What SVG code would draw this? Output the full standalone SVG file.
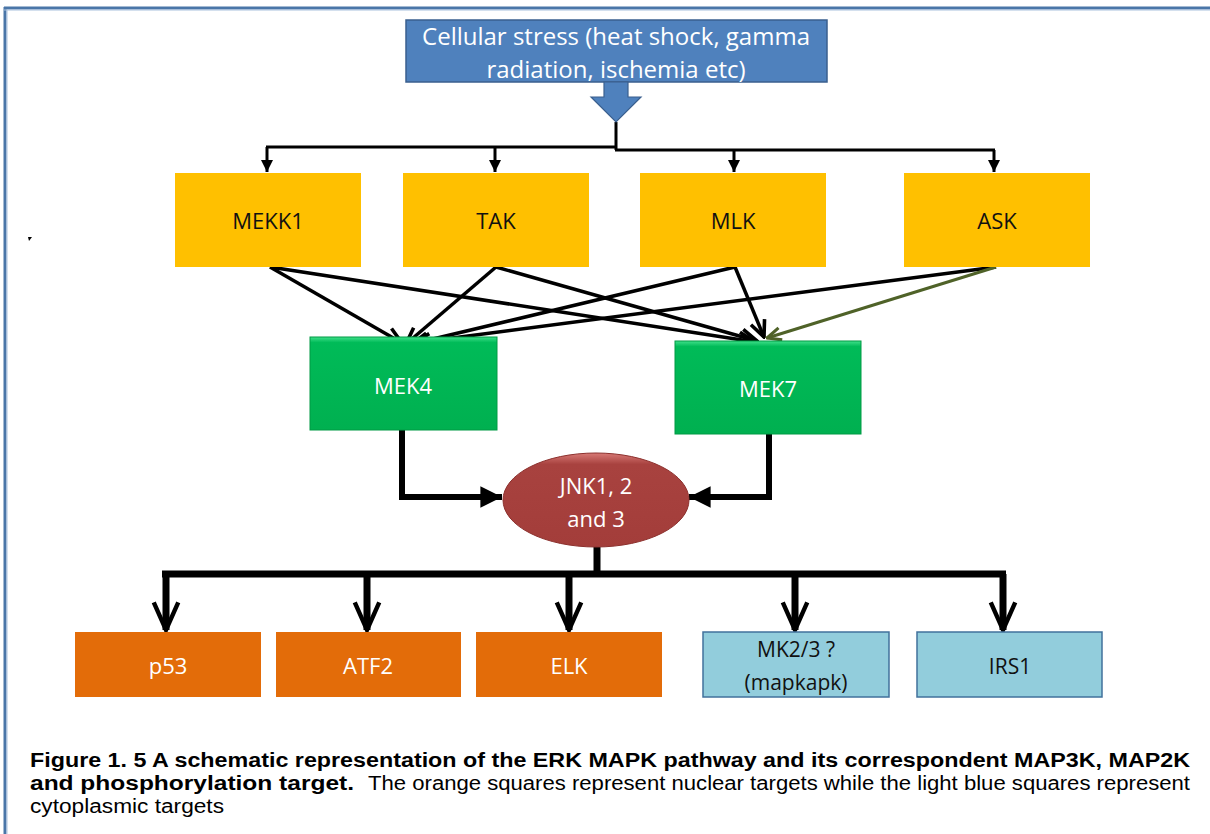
<svg xmlns="http://www.w3.org/2000/svg" width="1210" height="834" viewBox="0 0 1210 834">
  <defs>
    <style>
      .lbl { font-family: "Open Sans", "Liberation Sans", sans-serif; text-anchor: middle; }
      .w { fill: #ffffff; }
      .k { fill: #111111; }
      .cap { font-family: "Liberation Sans", Arial, sans-serif; font-size: 20px; fill: #000; }
      .wire { fill: none; stroke: #000; stroke-width: 3; }
      .diag { fill: none; stroke: #000; stroke-width: 3.5; }
      .thick { fill: none; stroke: #000; stroke-width: 6; }
      .fat { fill: none; stroke: #000; stroke-width: 7; }
    </style>
    <linearGradient id="gGreen" x1="0" y1="0" x2="0" y2="1">
      <stop offset="0" stop-color="#3fe08a"/>
      <stop offset="0.06" stop-color="#00bb58"/>
      <stop offset="1" stop-color="#00b050"/>
    </linearGradient>
    <linearGradient id="gRed" x1="0" y1="0" x2="0" y2="1">
      <stop offset="0" stop-color="#d87a76"/>
      <stop offset="0.12" stop-color="#a8423f"/>
      <stop offset="1" stop-color="#a33d3a"/>
    </linearGradient>
    <marker id="mSmall" viewBox="0 0 10 10" refX="10" refY="5" markerWidth="4" markerHeight="5" orient="auto" markerUnits="strokeWidth">
      <path d="M0,0 L10,5 L0,10 Z" fill="#000"/>
    </marker>
    <marker id="mOpen" viewBox="0 0 12 12" refX="11" refY="6" markerWidth="5.6" markerHeight="5.6" orient="auto" markerUnits="strokeWidth">
      <path d="M1,1.5 L11,6 L1,10.5" fill="none" stroke="#000" stroke-width="2.2"/>
    </marker>
    <marker id="mOpenG" viewBox="0 0 12 12" refX="11" refY="6" markerWidth="5.6" markerHeight="5.6" orient="auto" markerUnits="strokeWidth">
      <path d="M1,1.5 L11,6 L1,10.5" fill="none" stroke="#4f6228" stroke-width="2.2"/>
    </marker>
    <marker id="mFill" viewBox="0 0 10 10" refX="10" refY="5" markerWidth="3.6" markerHeight="3.6" orient="auto" markerUnits="strokeWidth">
      <path d="M0,0 L10,5 L0,10 Z" fill="#000"/>
    </marker>
    <marker id="mV" viewBox="0 0 12 12" refX="10.5" refY="6" markerWidth="5" markerHeight="5" orient="auto" markerUnits="strokeWidth">
      <path d="M1,1.8 L10.5,6 L1,10.2" fill="none" stroke="#000" stroke-width="1.5"/>
    </marker>
  </defs>

  <rect width="1210" height="834" fill="#ffffff"/>

  <!-- page frame -->
  <g id="frame">
    <line x1="4" y1="8" x2="1210" y2="8" stroke="#4a76a8" stroke-width="3"/>
    <line x1="5" y1="7" x2="5" y2="834" stroke="#4a76a8" stroke-width="3"/>
    <line x1="4" y1="10" x2="1210" y2="10" stroke="#a9c1de" stroke-width="1"/>
    <line x1="7" y1="10" x2="7" y2="834" stroke="#a9c1de" stroke-width="1"/>
    <path d="M28,237 L32,237 L29,241 Z" fill="#000"/>
  </g>

  <!-- connectors -->
  <g id="connectors">
    <!-- stress fan-out -->
    <line x1="616" y1="122" x2="616" y2="150" class="wire"/>
    <line x1="266" y1="147" x2="617" y2="147" class="wire"/>
    <line x1="615" y1="150" x2="995" y2="150" class="wire"/>
    <line x1="267" y1="147" x2="267" y2="172" class="wire" marker-end="url(#mSmall)"/>
    <line x1="495" y1="147" x2="495" y2="172" class="wire" marker-end="url(#mSmall)"/>
    <line x1="734" y1="150" x2="734" y2="172" class="wire" marker-end="url(#mSmall)"/>
    <line x1="994" y1="150" x2="994" y2="172" class="wire" marker-end="url(#mSmall)"/>

    <!-- MAP3K to MAP2K -->
    <line x1="270" y1="267" x2="402" y2="343" class="diag" marker-end="url(#mOpen)"/>
    <line x1="270" y1="267" x2="755" y2="342" class="diag" marker-end="url(#mOpen)"/>
    <line x1="496" y1="267" x2="406" y2="344" class="diag" marker-end="url(#mOpen)"/>
    <line x1="496" y1="267" x2="757" y2="341" class="diag" marker-end="url(#mOpen)"/>
    <line x1="735" y1="267" x2="412" y2="344" class="diag" marker-end="url(#mOpen)"/>
    <line x1="735" y1="267" x2="764" y2="337" class="diag" marker-end="url(#mOpen)"/>
    <line x1="996" y1="267" x2="414" y2="343" class="diag" marker-end="url(#mOpen)"/>
    <line x1="996" y1="267" x2="767" y2="338" fill="none" stroke="#4f6228" stroke-width="3" marker-end="url(#mOpenG)"/>

    <!-- MAP2K to JNK -->
    <polyline points="402,430 402,497 502,497" class="thick" marker-end="url(#mFill)"/>
    <polyline points="769,434 769,497 689,497" class="thick" marker-end="url(#mFill)"/>

    <!-- JNK fan-out -->
    <line x1="597" y1="547" x2="597" y2="577" class="fat"/>
    <line x1="162" y1="574" x2="1006" y2="574" class="fat"/>
    <line x1="166" y1="574" x2="166" y2="630" class="fat" marker-end="url(#mV)"/>
    <line x1="367" y1="574" x2="367" y2="630" class="fat" marker-end="url(#mV)"/>
    <line x1="569" y1="574" x2="569" y2="630" class="fat" marker-end="url(#mV)"/>
    <line x1="795" y1="574" x2="795" y2="630" class="fat" marker-end="url(#mV)"/>
    <line x1="1003" y1="574" x2="1003" y2="630" class="fat" marker-end="url(#mV)"/>
  </g>

  <!-- stimulus -->
  <g id="stress">
    <rect x="406" y="20" width="421" height="62" fill="#4f81bd" stroke="#3a5f8e" stroke-width="1.5"/>
    <path d="M604,82 L628,82 L628,97 L641,97 L616,122 L591,97 L604,97 Z" fill="#4f81bd" stroke="#3a5f8e" stroke-width="1.2"/>
    <text class="lbl w" x="616" y="45" font-size="24">Cellular stress (heat shock, gamma</text>
    <text class="lbl w" x="616" y="78" font-size="24">radiation, ischemia etc)</text>
  </g>

  <!-- MAP3K -->
  <g id="mekk1">
    <rect x="175" y="173" width="186" height="94" fill="#ffc000"/>
    <text class="lbl k" x="268" y="229" font-size="22">MEKK1</text>
  </g>
  <g id="tak">
    <rect x="403" y="173" width="186" height="94" fill="#ffc000"/>
    <text class="lbl k" x="496" y="229" font-size="22">TAK</text>
  </g>
  <g id="mlk">
    <rect x="640" y="173" width="186" height="94" fill="#ffc000"/>
    <text class="lbl k" x="733" y="229" font-size="22">MLK</text>
  </g>
  <g id="ask">
    <rect x="904" y="173" width="186" height="94" fill="#ffc000"/>
    <text class="lbl k" x="997" y="229" font-size="22">ASK</text>
  </g>

  <!-- MAP2K -->
  <g id="mek4">
    <rect x="310" y="337" width="187" height="93" fill="url(#gGreen)" stroke="#009a45" stroke-width="1"/>
    <text class="lbl w" x="403" y="394" font-size="22">MEK4</text>
  </g>
  <g id="mek7">
    <rect x="675" y="341" width="186" height="93" fill="url(#gGreen)" stroke="#009a45" stroke-width="1"/>
    <text class="lbl w" x="768" y="397" font-size="22">MEK7</text>
  </g>

  <!-- MAPK -->
  <g id="jnk">
    <ellipse cx="596" cy="500" rx="93" ry="47" fill="url(#gRed)" stroke="#8c302d" stroke-width="1"/>
    <text class="lbl w" x="596" y="494" font-size="22">JNK1, 2</text>
    <text class="lbl w" x="596" y="527" font-size="22">and 3</text>
  </g>

  <!-- targets -->
  <g id="p53">
    <rect x="75" y="632" width="186" height="65" fill="#e36c09"/>
    <text class="lbl w" x="168" y="674" font-size="22">p53</text>
  </g>
  <g id="atf2">
    <rect x="276" y="632" width="185" height="65" fill="#e36c09"/>
    <text class="lbl w" x="368" y="674" font-size="22">ATF2</text>
  </g>
  <g id="elk">
    <rect x="476" y="632" width="186" height="65" fill="#e36c09"/>
    <text class="lbl w" x="569" y="674" font-size="22">ELK</text>
  </g>
  <g id="mk23">
    <rect x="703" y="632" width="186" height="65" fill="#92cddc" stroke="#41719c" stroke-width="1.5"/>
    <text class="lbl k" x="796" y="657" font-size="21">MK2/3 ?</text>
    <text class="lbl k" x="796" y="690" font-size="21">(mapkapk)</text>
  </g>
  <g id="irs1">
    <rect x="917" y="632" width="185" height="65" fill="#92cddc" stroke="#41719c" stroke-width="1.5"/>
    <text class="lbl k" x="1010" y="674" font-size="21">IRS1</text>
  </g>

  <!-- caption -->
  <g id="caption">
    <text class="cap" x="30" y="767" font-weight="bold" textLength="1160" lengthAdjust="spacingAndGlyphs">Figure 1. 5 A schematic representation of the ERK MAPK pathway and its correspondent MAP3K, MAP2K</text>
    <text class="cap" x="30" y="790" font-weight="bold" textLength="324" lengthAdjust="spacingAndGlyphs">and phosphorylation target.</text>
    <text class="cap" x="368" y="790" textLength="822" lengthAdjust="spacingAndGlyphs">The orange squares represent nuclear targets while the light blue squares represent</text>
    <text class="cap" x="30" y="813" textLength="194" lengthAdjust="spacingAndGlyphs">cytoplasmic targets</text>
  </g>
</svg>
